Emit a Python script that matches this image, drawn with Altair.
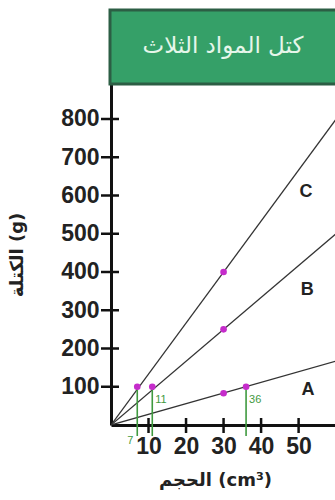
import altair as alt
import pandas as pd

# Straight-line mass vs. volume for the three substances (end points of each line)
line_names = ["C", "C", "B", "B", "A", "A"]
line_volume = [0, 60, 0, 60, 0, 60]
line_mass = [0, 800, 0, 500, 0, 167]

# Measured points on the lines
pt_volume = [7, 30, 11, 30, 36, 30]
pt_mass = [100, 400, 100, 250, 100, 83]

# Green guide lines dropped to the volume axis, with their labels
guide_volume = [7, 11, 36]
guide_mass = [100, 100, 100]
guide_text = ["7", "11", "36"]

# Line name labels
name_text = ["C", "B", "A"]
name_volume = [52, 52.3, 52.5]
name_mass = [609, 353, 92]

x_ticks = [10, 20, 30, 40, 50]
y_ticks = [100, 200, 300, 400, 500, 600, 700, 800]

title_text = "كتل المواد الثلاث"
x_title = "الحجم (cm³)"
y_title = "الكتلة (g)"

W, H = 224, 341
X_DOM = [0, 59.7]
Y_DOM = [0, 891.5]
LABEL_FONT = "Liberation Sans"
AR_FONT = "DejaVu Sans"

xs = alt.Scale(domain=X_DOM, nice=False, zero=False)
ys = alt.Scale(domain=Y_DOM, nice=False, zero=False)

lines_df = pd.DataFrame({"name": line_names, "v": line_volume, "m": line_mass})
pts_df = pd.DataFrame({"v": pt_volume, "m": pt_mass})
guide_df = pd.DataFrame({"v": guide_volume, "m": guide_mass, "t": guide_text})
names_df = pd.DataFrame({"t": name_text, "v": name_volume, "m": name_mass})
xt_df = pd.DataFrame({"v": x_ticks})
yt_df = pd.DataFrame({"m": y_ticks})

x_axis = alt.Axis(
    values=x_ticks, title=x_title, labelFont=LABEL_FONT, labelFontSize=23,
    labelFontWeight="bold", labelColor="#222", ticks=False, labelPadding=10,
    domainColor="#111", domainWidth=3,
    titleFont=AR_FONT, titleFontSize=18, titleFontWeight="bold",
    titleColor="#222", titlePadding=13, titleX=W / 2 - 8, grid=False,
)
y_axis = alt.Axis(
    values=y_ticks, title=y_title, labelFont=LABEL_FONT, labelFontSize=23,
    labelFontWeight="bold", labelColor="#222", ticks=False, labelPadding=12,
    domainColor="#111", domainWidth=3,
    titleFont=AR_FONT, titleFontSize=18, titleFontWeight="bold",
    titleColor="#222", titlePadding=34, grid=False,
)

base_lines = alt.Chart(lines_df).mark_line(
    color="#333", strokeWidth=1.3, clip=True
).encode(
    x=alt.X("v:Q", scale=xs, axis=x_axis),
    y=alt.Y("m:Q", scale=ys, axis=y_axis),
    detail="name:N",
)

# Axis ticks that cross the axis lines on both sides
y_tick_marks = alt.Chart(yt_df).mark_rule(color="#111", strokeWidth=2.5).encode(
    y=alt.Y("m:Q", scale=ys), x=alt.value(-10), x2=alt.value(8)
)
x_tick_marks = alt.Chart(xt_df).mark_rule(color="#111", strokeWidth=2.5).encode(
    x=alt.X("v:Q", scale=xs), y=alt.value(H - 7), y2=alt.value(H + 8)
)

guides = alt.Chart(guide_df).mark_rule(color="#3f9a3f", strokeWidth=1.6).encode(
    x=alt.X("v:Q", scale=xs), y=alt.Y("m:Q", scale=ys), y2=alt.value(H + 11)
)
guide_low = alt.Chart(guide_df[guide_df.t == "7"]).mark_text(
    color="#3f9a3f", fontSize=11, font=LABEL_FONT, align="right", dx=-4, baseline="middle"
).encode(x=alt.X("v:Q", scale=xs), y=alt.value(H + 16), text="t:N")
guide_high = alt.Chart(guide_df[guide_df.t != "7"]).mark_text(
    color="#3f9a3f", fontSize=11, font=LABEL_FONT, align="left", dx=3, baseline="middle"
).encode(x=alt.X("v:Q", scale=xs), y=alt.value(H - 25), text="t:N")

points = alt.Chart(pts_df).mark_circle(color="#c52ccb", size=44, opacity=1).encode(
    x=alt.X("v:Q", scale=xs), y=alt.Y("m:Q", scale=ys)
)

names = alt.Chart(names_df).mark_text(
    fontSize=18, fontWeight="bold", font=LABEL_FONT, color="#222"
).encode(x=alt.X("v:Q", scale=xs), y=alt.Y("m:Q", scale=ys), text="t:N")

# Green title banner above the plot
banner = alt.Chart(pd.DataFrame({"t": [title_text]})).mark_rect(
    fill="#35a068", stroke="#2c5e44", strokeWidth=3
).encode(x=alt.value(-1), x2=alt.value(W + 10), y=alt.value(-74), y2=alt.value(0))
banner_text = alt.Chart(pd.DataFrame({"t": [title_text]})).mark_text(
    font=AR_FONT, fontSize=23, color="#e6f6ea", align="center", baseline="middle"
).encode(x=alt.value(W / 2), y=alt.value(-38), text="t:N")

chart = alt.layer(
    base_lines, guides, y_tick_marks, x_tick_marks, points, names, guide_low,
    guide_high, banner, banner_text,
).properties(
    width=W, height=H,
    autosize=alt.AutoSizeParams(type="none"),
    padding={"left": 111, "top": 84, "right": 0, "bottom": 75},
).configure_view(stroke=None).configure(background="white")

chart.save("out.html", embed_options={"renderer": "svg", "actions": False})
